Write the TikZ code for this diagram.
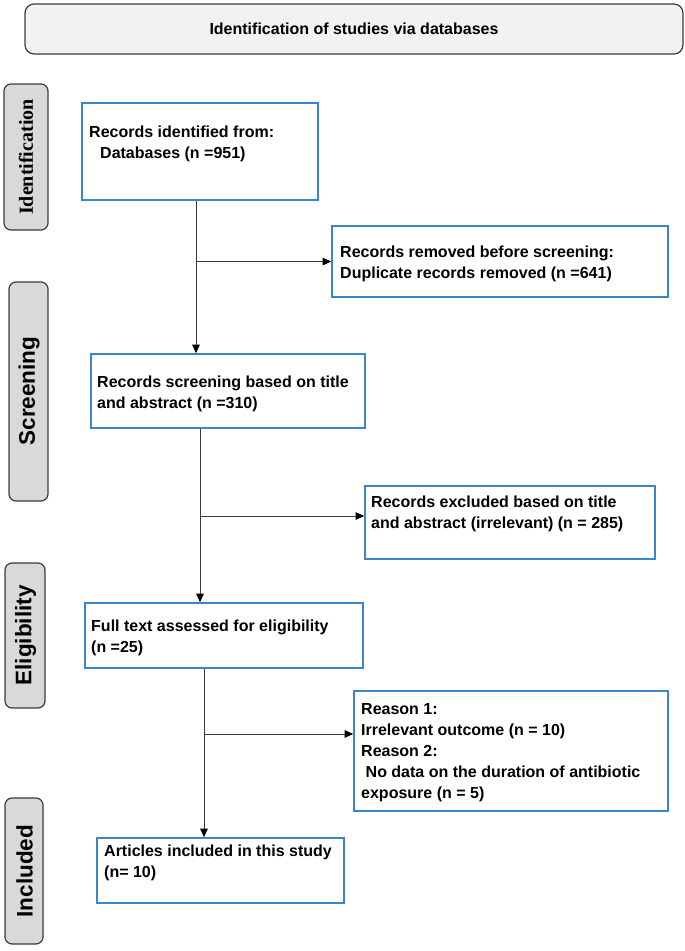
\documentclass[tikz,border=0pt]{standalone}
\usepackage{fontspec}
\setmainfont{Liberation Sans}
\newfontfamily\serifbold{Liberation Serif}
\usetikzlibrary{arrows.meta,calc}
\definecolor{boxblue}{HTML}{3A86C8}
\definecolor{sidegray}{HTML}{D9D9D9}
\definecolor{titlegray}{HTML}{F2F2F2}
\definecolor{edgegray}{HTML}{3C3C3C}
\definecolor{linegray}{HTML}{3A3A3A}
\begin{document}
\begin{tikzpicture}[x=1pt,y=-1pt,
  flowbox/.style={draw=boxblue,line width=1.6pt,fill=white,minimum width=#1,inner sep=0pt},
  sidebox/.style={draw=edgegray,line width=1.2pt,fill=sidegray,rounded corners=7pt},
  titlebox/.style={draw=edgegray,line width=1.2pt,fill=titlegray,rounded corners=9pt},
  txt/.style={font=\fontsize{16}{21}\selectfont\bfseries,align=left,inner sep=0pt,anchor=north west},
  sidelabel/.style={font=\fontsize{22.5}{26}\selectfont\bfseries,rotate=90,inner sep=0pt},
  arr/.style={draw=linegray,line width=0.9pt,-{Triangle[length=8.5pt,width=7.5pt,color=black]}}]
\useasboundingbox (0,0) rectangle (685,951);
% title
\node[titlebox,minimum width=658pt,minimum height=50pt] (tbox) at (354,29) {};
\node[font=\fontsize{16}{21}\selectfont\bfseries] (title) at (354,29) {Identification of studies via databases};
% side boxes
\node[sidebox,minimum width=44pt,minimum height=146pt] (sb1) at (26,157) {};
\node[sidelabel,font=\fontsize{20}{24}\selectfont\serifbold\bfseries] (sIdent) at (26,157) {Identification};
\node[sidebox,minimum width=39pt,minimum height=219pt] (sb2) at (28.5,391.5) {};
\node[sidelabel] (sScreen) at (29,391) {Screening};
\node[sidebox,minimum width=40pt,minimum height=145pt] (sb3) at (25,635.5) {};
\node[sidelabel] (sElig) at (25.5,635.5) {Eligibility};
\node[sidebox,minimum width=38pt,minimum height=146pt] (sb4) at (24,871) {};
\node[sidelabel] (sIncl) at (24.5,871) {Included};
% flow boxes
\node[flowbox=236pt,minimum height=97pt] (b1) at (200,151.5) {};
\node[flowbox=336pt,minimum height=71pt] (b2) at (500,261.5) {};
\node[flowbox=274pt,minimum height=74pt] (b3) at (228,391) {};
\node[flowbox=290pt,minimum height=73pt] (b4) at (510,522.5) {};
\node[flowbox=278pt,minimum height=65pt] (b5) at (224,635.5) {};
\node[flowbox=314pt,minimum height=120pt] (b6) at (511,751) {};
\node[flowbox=247pt,minimum height=65pt] (b7) at (220.5,870.5) {};
% texts
\node[txt] (t1) at (89,122.3) {\strut Records identified from:\\\hspace{11pt}Databases (n =951)};
\node[txt] (t2) at (340,242.3) {\strut Records removed before screening:\\Duplicate records removed (n =641)};
\node[txt] (t3) at (97,372.3) {\strut Records screening based on title\\and abstract (n =310)};
\node[txt] (t4) at (371,492.3) {\strut Records excluded based on title\\and abstract (irrelevant) (n = 285)};
\node[txt] (t5) at (91,616.3) {\strut Full text assessed for eligibility\\(n =25)};
\node[txt] (t6) at (361,699.3) {\strut Reason 1:\\Irrelevant outcome (n = 10)\\Reason 2:\\\hspace{4.5pt}No data on the duration of antibiotic\\exposure (n = 5)};
\node[txt] (t7) at (104,841.3) {\strut Articles included in this study\\(n= 10)};
% connectors
\coordinate (j1) at (196,261.5);
\coordinate (j2) at (200,516);
\coordinate (j3) at (204,734);
\draw[arr] (j1 |- b1.south) -- (j1 |- b3.north);
\draw[arr] (j1) -- (j1 -| b2.west);
\draw[arr] (j2 |- b3.south) -- (j2 |- b5.north);
\draw[arr] (j2) -- (j2 -| b4.west);
\draw[arr] (j3 |- b5.south) -- (j3 |- b7.north);
\draw[arr] (j3) -- (j3 -| b6.west);
\end{tikzpicture}
\end{document}
